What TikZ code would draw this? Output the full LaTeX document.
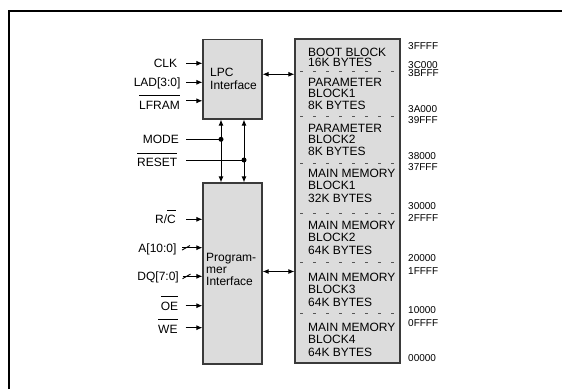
\documentclass[tikz,border=0pt]{standalone}
\usepackage{fontspec}
\setmainfont{Liberation Sans}
\usetikzlibrary{arrows.meta}
\definecolor{boxf}{HTML}{DCDCDC}
\definecolor{boxc}{HTML}{3A3A3A}
\definecolor{sepc}{HTML}{555555}
\newsavebox\ovbox
\newcommand\ovl[1]{\sbox\ovbox{#1}\rlap{\rule[13pt]{\wd\ovbox}{0.8pt}}\usebox\ovbox}
\tikzset{
 blk/.style={draw=boxc, fill=boxf, line width=1.2pt, inner sep=0pt},
 lbl/.style={font=\fontsize{12}{12}\selectfont, inner sep=0pt, anchor=base east},
 mtx/.style={font=\fontsize{12}{12}\selectfont, inner sep=0pt, anchor=base west},
 adr/.style={font=\fontsize{10}{10}\selectfont, inner sep=0pt, anchor=base west},
 conn/.style={line width=0.9pt},
 arr/.style={conn, -{Latex[length=6pt,width=5pt]}},
 darr/.style={conn, {Latex[length=6pt,width=5pt]}-{Latex[length=6pt,width=5pt]}},
 sepline/.style={draw=sepc, line width=0.9pt, dash pattern=on 2.5pt off 10.5pt},
 jdot/.style={circle, fill, inner sep=0pt, minimum size=5pt},
}
\begin{document}
\begin{tikzpicture}[x=1pt,y=-1pt]
\useasboundingbox (0,0) rectangle (562,389);
\draw[line width=2pt] (9,389) -- (9,11) -- (562,11);

% blocks
\node[blk, minimum width=59pt, minimum height=79.5pt] (lpc) at (232.5,79.25) {};
\node[blk, minimum width=105pt, minimum height=324pt] (mem) at (347.5,201) {};
\node[blk, minimum width=59pt, minimum height=181pt] (prog) at (232.5,273.5) {};

\node[mtx] (lpct1) at (210,76.7) {LPC};
\node[mtx] (lpct2) at (210,89) {Interface};
\node[mtx] (pgt1) at (206,261.7) {Program-};
\node[mtx] (pgt2) at (206,273.7) {mer};
\node[mtx] (pgt3) at (206,285.7) {Interface};

% memory separators
\foreach \yy in {71,116,163,213,262,313}{
  \draw[sepline] (300,\yy) -- (398,\yy);
}

% memory texts
\node[mtx] (b1) at (308,56.3) {BOOT BLOCK};
\node[mtx] (b2) at (308,66.3) {16K BYTES};
\node[mtx] (p1a) at (308,86) {PARAMETER};
\node[mtx] (p1b) at (308,97.5) {BLOCK1};
\node[mtx] (p1c) at (308,109) {8K BYTES};
\node[mtx] (p2a) at (308,132) {PARAMETER};
\node[mtx] (p2b) at (308,143.5) {BLOCK2};
\node[mtx] (p2c) at (308,155) {8K BYTES};
\node[mtx] (m1a) at (308,177) {MAIN MEMORY};
\node[mtx] (m1b) at (308,189.5) {BLOCK1};
\node[mtx] (m1c) at (308,202) {32K BYTES};
\node[mtx] (m2a) at (308,229) {MAIN MEMORY};
\node[mtx] (m2b) at (308,241.5) {BLOCK2};
\node[mtx] (m2c) at (308,254) {64K BYTES};
\node[mtx] (m3a) at (308,281) {MAIN MEMORY};
\node[mtx] (m3b) at (308,293.5) {BLOCK3};
\node[mtx] (m3c) at (308,306) {64K BYTES};
\node[mtx] (m4a) at (308,331) {MAIN MEMORY};
\node[mtx] (m4b) at (308,343.5) {BLOCK4};
\node[mtx] (m4c) at (308,356) {64K BYTES};

% addresses
\node[adr] (a1) at (408,49.6) {3FFFF};
\node[adr] (a2) at (408,68.6) {3C000};
\node[adr] (a3) at (408,76.6) {3BFFF};
\node[adr] (a4) at (408,112.6) {3A000};
\node[adr] (a5) at (408,123.6) {39FFF};
\node[adr] (a6) at (408,159.6) {38000};
\node[adr] (a7) at (408,170.6) {37FFF};
\node[adr] (a8) at (408,209.6) {30000};
\node[adr] (a9) at (408,221.6) {2FFFF};
\node[adr] (a10) at (408,261.6) {20000};
\node[adr] (a11) at (408,274.6) {1FFFF};
\node[adr] (a12) at (408,313.6) {10000};
\node[adr] (a13) at (408,326.6) {0FFFF};
\node[adr] (a14) at (408,361.6) {00000};

% interfaces to memory
\draw[darr] ([yshift=5pt]lpc.east) -- ([yshift=5pt]lpc.east -| mem.west);
\draw[darr] ([yshift=2pt]prog.east) -- ([yshift=2pt]prog.east -| mem.west);

% LPC inputs
\node[lbl] (clk) at (177.3,67.6) {CLK};
\node[lbl] (lad) at (180.7,86.7) {LAD[3:0]};
\node[lbl] (lfr) at (180,109) {\ovl{LFRAM}};
\coordinate (clk0) at (186,63.3);
\coordinate (lad0) at (186,82.3);
\coordinate (lfr0) at (186,100.8);
\draw[arr] (clk0) -- (clk0 -| lpc.west);
\draw[arr] (lad0) -- (lad0 -| lpc.west);
\draw[arr] (lfr0) -- (lfr0 -| lpc.west);

% MODE / RESET
\node[lbl] (mode) at (179,143.3) {MODE};
\node[lbl] (rst) at (177.3,166.7) {\ovl{RESET}};
\coordinate (v1) at (221,0);
\coordinate (v2) at (244,0);
\draw[darr] (v1 |- lpc.south) -- (v1 |- prog.north);
\draw[darr] (v2 |- lpc.south) -- (v2 |- prog.north);
\coordinate (mode0) at (186,139.3);
\coordinate (rst0) at (186,160);
\node[jdot] (d1) at (v1 |- mode0) {};
\node[jdot] (d2) at (v2 |- rst0) {};
\draw[conn] (mode0) -- (d1.center);
\draw[conn] (rst0) -- (d2.center);

% Programmer inputs
\node[lbl] (rc) at (176,223.3) {R/\ovl{C}};
\node[lbl] (addr) at (176.7,252) {A[10:0]};
\node[lbl] (dq) at (179,280.7) {DQ[7:0]};
\node[lbl] (oe) at (178.3,310) {\ovl{OE}};
\node[lbl] (we) at (177.7,333) {\ovl{WE}};
\coordinate (rc0) at (186,219.3);
\coordinate (addr0) at (182,247.7);
\coordinate (dq0) at (182.5,276.3);
\coordinate (oe0) at (185.5,305.7);
\coordinate (we0) at (185.5,327.7);
\draw[arr] (rc0) -- (rc0 -| prog.west);
\draw[arr] (addr0) -- (addr0 -| prog.west);
\draw[arr] (dq0) -- (dq0 -| prog.west);
\draw[arr] (oe0) -- (oe0 -| prog.west);
\draw[arr] (we0) -- (we0 -| prog.west);
\draw[conn] ([shift={(0,2.4)}]addr0) -- ([shift={(8,-2.2)}]addr0);
\draw[conn] ([shift={(0,2.4)}]dq0) -- ([shift={(8,-2.2)}]dq0);
\end{tikzpicture}
\end{document}
